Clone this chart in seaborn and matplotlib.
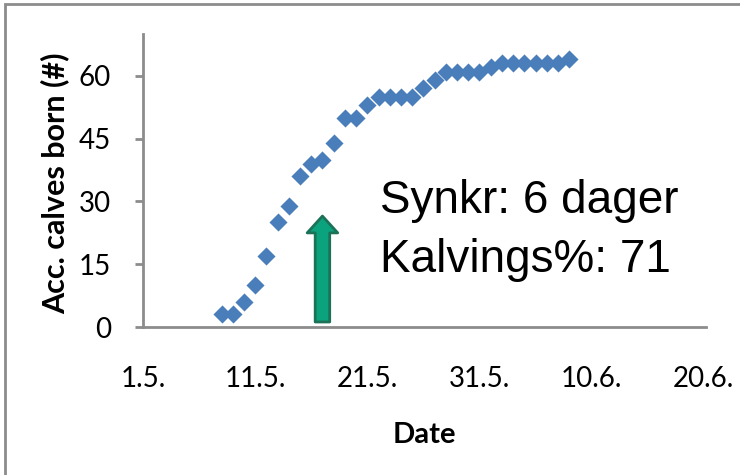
import matplotlib
matplotlib.use("Agg")
import matplotlib.pyplot as plt
import seaborn as sns
import pandas as pd
from matplotlib.patches import Rectangle

# days counted from 1.5.
days = list(range(7, 39))
calves = [3, 3, 6, 10, 17, 25, 29, 36, 39, 40, 44, 50, 50, 53, 55, 55,
          55, 55, 57, 59, 61, 61, 61, 61, 62, 63, 63, 63, 63, 63, 63, 64]

tick_days = [0, 10, 20, 30, 40, 50]
tick_labels = ["1.5.", "11.5.", "21.5.", "31.5.", "10.6.", "20.6."]
y_ticks = [0, 15, 30, 45, 60]

arrow_day = 16
arrow_from = 1.2
arrow_to = 26.5

note_lines = ["Synkr: 6 dager", "Kalvings%: 71"]

df = pd.DataFrame({"day": days, "calves": calves})

sns.set_style("white")
plt.rcParams["font.family"] = ["Lato", "DejaVu Sans"]
plt.rcParams["text.color"] = "black"
plt.rcParams["axes.labelcolor"] = "black"

fig = plt.figure(figsize=(7.4, 4.75), dpi=100)
ax = fig.add_axes([143 / 740, 1 - 327 / 475, (706 - 143) / 740, (327 - 34) / 475])

sns.scatterplot(data=df, x="day", y="calves", marker="D", s=85,
                color="#4a7ebb", linewidth=0, ax=ax, zorder=3)

ax.set_xlim(0, 50.2)
ax.set_ylim(0, 70)
ax.set_xticks(tick_days)
ax.set_xticklabels(tick_labels)
ax.set_yticks(y_ticks)

axis_grey = "#8c8c8c"
for side in ["top", "right"]:
    ax.spines[side].set_visible(False)
for side in ["left", "bottom"]:
    ax.spines[side].set_color(axis_grey)
    ax.spines[side].set_linewidth(2)

ax.tick_params(axis="y", direction="out", length=6, width=2, color=axis_grey,
               pad=17, labelsize=20, labelcolor="black", left=True)
ax.tick_params(axis="x", length=0, pad=28, labelsize=20, labelcolor="black")

ax.set_xlabel("Date", fontsize=21, fontweight="bold", labelpad=22)
ax.set_ylabel("Acc. calves born (#)", fontsize=22, fontweight="bold")
ax.yaxis.set_label_coords(-0.13, 0.49)

# green arrow
ax.annotate("", xy=(arrow_day, arrow_to), xytext=(arrow_day, arrow_from),
            arrowprops=dict(arrowstyle="simple,head_width=2.0,head_length=1.1,tail_width=0.95",
                            fc="#0ba37e", ec="#1c7257", lw=2,
                            shrinkA=0, shrinkB=0, mutation_scale=11),
            zorder=4)

fig.text(380 / 740, 1 - 213 / 475, note_lines[0], fontsize=33,
         family="Liberation Sans", va="baseline", ha="left")
fig.text(380 / 740, 1 - 272 / 475, note_lines[1], fontsize=33,
         family="Liberation Sans", va="baseline", ha="left")

# chart area border
fig.patches.append(Rectangle((5 / 740, -0.1), 1.2, 1 - 4 / 475 + 0.1,
                             transform=fig.transFigure, fill=False,
                             ec="#8c8c8c", lw=2, zorder=0))

fig.savefig("out.png", dpi=100, facecolor="white")
